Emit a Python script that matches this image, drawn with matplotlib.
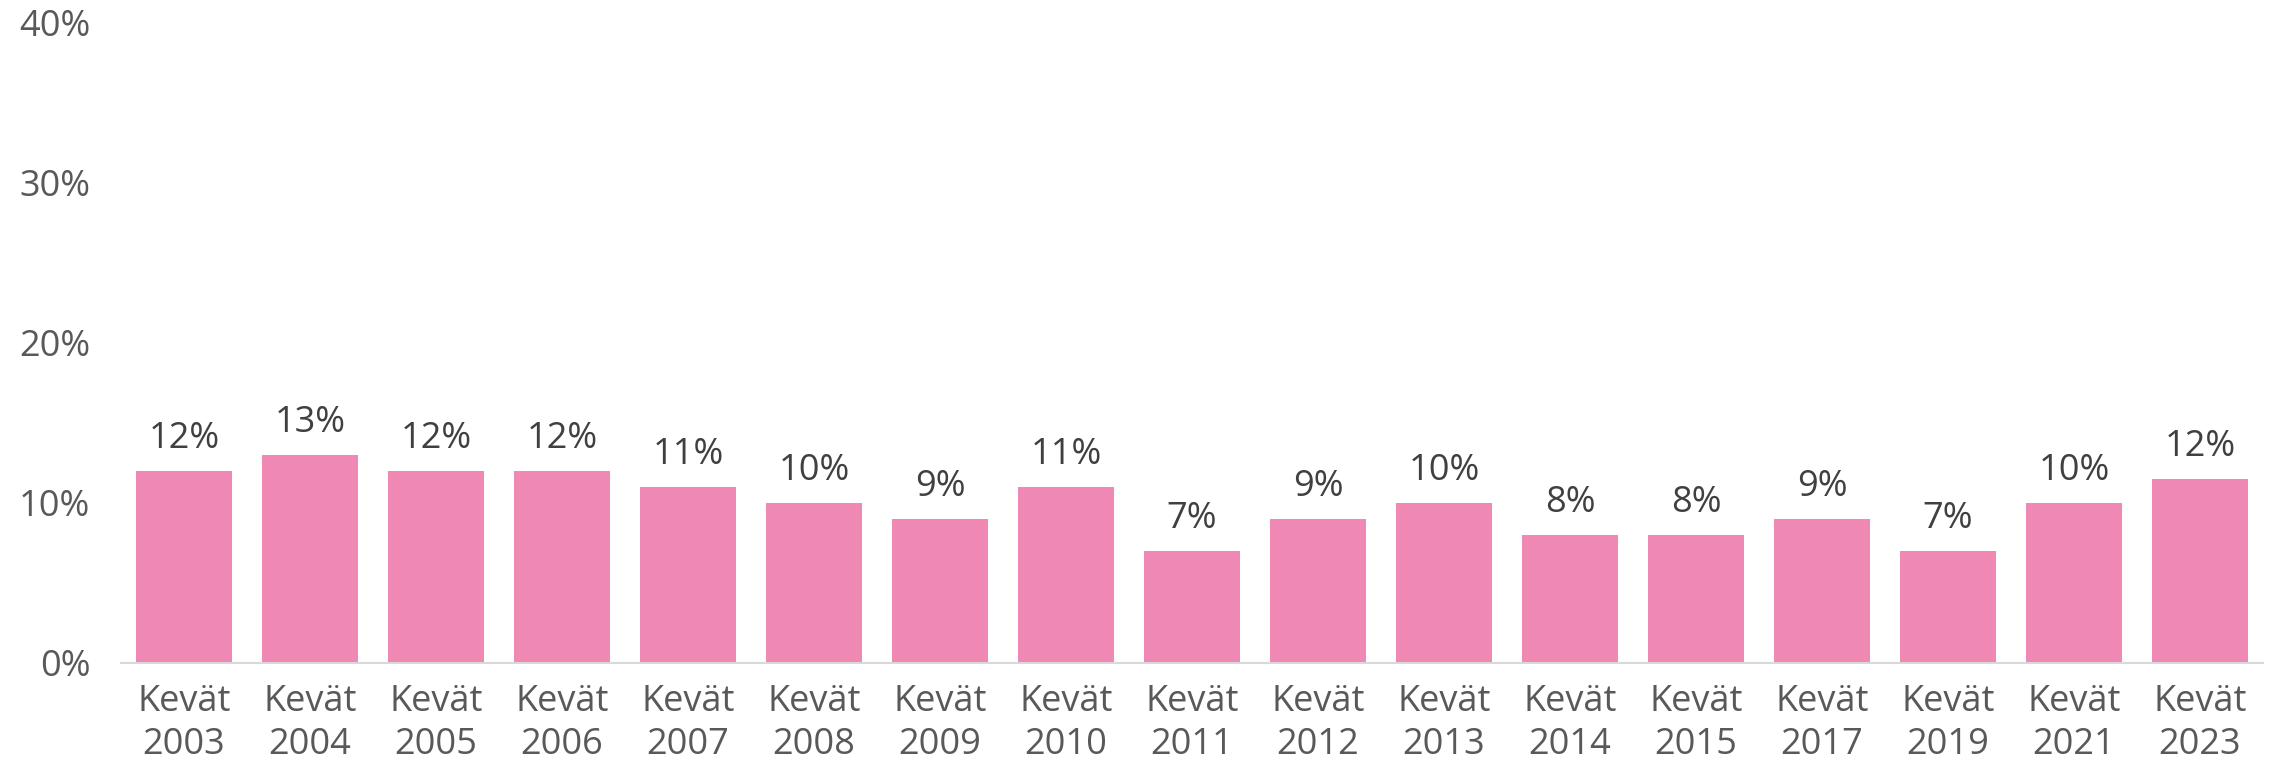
import matplotlib
matplotlib.use("Agg")
import matplotlib.pyplot as plt
from matplotlib.ticker import FixedLocator

categories = ["Kevät\n2003", "Kevät\n2004", "Kevät\n2005", "Kevät\n2006", "Kevät\n2007",
              "Kevät\n2008", "Kevät\n2009", "Kevät\n2010", "Kevät\n2011", "Kevät\n2012",
              "Kevät\n2013", "Kevät\n2014", "Kevät\n2015", "Kevät\n2017", "Kevät\n2019",
              "Kevät\n2021", "Kevät\n2023"]
values = [12, 13, 12, 12, 11, 10, 9, 11, 7, 9, 10, 8, 8, 9, 7, 10, 11.5]
value_labels = ["12%", "13%", "12%", "12%", "11%", "10%", "9%", "11%", "7%", "9%",
                "10%", "8%", "8%", "9%", "7%", "10%", "12%"]
y_ticks = [0, 10, 20, 30, 40]
y_tick_labels = ["0%", "10%", "20%", "30%", "40%"]

plt.rcParams['font.family'] = ['Open Sans', 'DejaVu Sans']

fig = plt.figure(figsize=(22.72, 7.6), dpi=100)
ax = fig.add_axes([121/2272, (760-663)/760, (2263-121)/2272, (663-23)/760])

x = list(range(len(categories)))
bars = ax.bar(x, values, width=0.767, color="#EF88B3", zorder=2)

for xi, v, lab in zip(x, values, value_labels):
    ax.annotate(lab, (xi, v), xytext=(0, 10), textcoords="offset points",
                ha="center", va="bottom", fontsize=26, color="#404040")

ax.set_xlim(-0.5, len(categories) - 0.5)
ax.set_ylim(0, 40)
ax.yaxis.set_major_locator(FixedLocator(y_ticks))
ax.set_yticklabels(y_tick_labels)
ax.set_xticks(x)
ax.set_xticklabels(categories, linespacing=1.25)

ax.tick_params(axis="y", length=0, pad=22, labelsize=26, labelcolor="#595959")
ax.tick_params(axis="x", length=0, pad=15, labelsize=26, labelcolor="#595959")

for side in ["top", "right", "left"]:
    ax.spines[side].set_visible(False)
ax.spines["bottom"].set_color("#D9D9D9")
ax.spines["bottom"].set_linewidth(1.5)

fig.savefig("out.png", dpi=100)
